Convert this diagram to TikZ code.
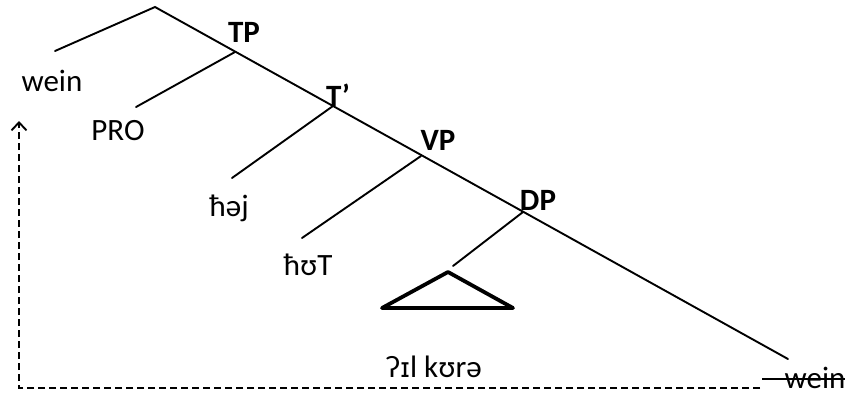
\documentclass[tikz,border=0pt]{standalone}
\usepackage{fontspec}
\setmainfont{Carlito}
\newfontfamily\ipaalt{DejaVu Sans}
\usetikzlibrary{arrows.meta}
\tikzset{
  branch/.style={line width=1.9pt, line cap=round},
  tri/.style={line width=3.8pt, line join=round, line cap=round},
  lab/.style={anchor=base, inner sep=0pt, font=\fontsize{31}{36}\selectfont},
  cat/.style={anchor=base, inner sep=0pt, font=\fontsize{31}{36}\selectfont\bfseries},
  ipa/.style={anchor=base, inner sep=0pt, font=\fontsize{31}{36}\selectfont},
  move/.style={line width=1.9pt, dash pattern=on 7pt off 4pt}
}
\begin{document}
\begin{tikzpicture}[x=1pt,y=-1pt]
\useasboundingbox (0,0) rectangle (854,394);
% branch points
\coordinate (root) at (155,7);
\coordinate (leftend) at (55,51);
\coordinate (tp) at (235,52);
\coordinate (tbar) at (333,106);
\coordinate (vp) at (421,156);
\coordinate (dp) at (523,212);
\coordinate (mainend) at (788,359);
\coordinate (proend) at (136,107);
\coordinate (hajend) at (232,178);
\coordinate (hutend) at (302,238);
\coordinate (dpend) at (453,266);
% triangle
\coordinate (apex) at (448,272);
\coordinate (tl) at (382,308);
\coordinate (tr) at (513,308);
% labels
\node[cat] (TP) at (244,42) {TP};
\node[cat] (Tb) at (338,106) {T'};
\node[cat] (VP) at (438,150) {VP};
\node[cat] (DP) at (538,210) {DP};
\node[lab] (wein1) at (52,91) {wein};
\node[lab] (PRO) at (118,140) {PRO};
\node[ipa] (haj) at (229,216) {ħəj};
\node[ipa] (hut) at (308,275) {ħʊT};
\node[ipa] (ilkura) at (434,377) {ʔ{\ipaalt\fontsize{27}{32}\selectfont ɪ}l kʊrə};
\node[lab] (wein2) at (815,388) {wein};
% tree lines
\draw[branch] (leftend) -- (root) -- (mainend);
\draw[branch] (tp) -- (proend);
\draw[branch] (tbar) -- (hajend);
\draw[branch] (vp) -- (hutend);
\draw[branch] (dp) -- (dpend);
\draw[tri] (apex) -- (tl) -- (tr) -- cycle;
% strike-through on the lower wein
\coordinate (s1) at (762,379);
\coordinate (s2) at (845,379);
\draw[line width=1.9pt] (s1) -- (s2);
% movement arrow
\coordinate (m1) at (760,388);
\coordinate (m2) at (19,388);
\coordinate (m3) at (19,121);
\draw[move, -{Straight Barb[length=8pt,width=15pt,line width=1.9pt]}] (m1) -- (m2) -- (m3);
\end{tikzpicture}
\end{document}
